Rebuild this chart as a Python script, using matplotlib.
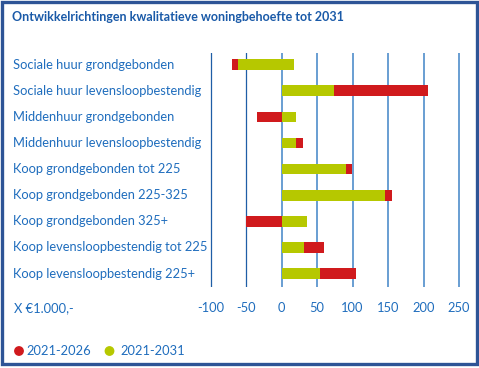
import matplotlib
matplotlib.use("Agg")
import matplotlib.pyplot as plt
from matplotlib.patches import Rectangle, Circle

categories = [
    "Sociale huur grondgebonden",
    "Sociale huur levensloopbestendig",
    "Middenhuur grondgebonden",
    "Middenhuur levensloopbestendig",
    "Koop grondgebonden tot 225",
    "Koop grondgebonden 225-325",
    "Koop grondgebonden 325+",
    "Koop levensloopbestendig tot 225",
    "Koop levensloopbestendig 225+",
]
# segment edges per series (x €1.000)
red_start = [-70, 74, -35, 20, 90, 145, -51, 31, 54]
red_end = [-62, 207, 0, 30, 99, 155, 0, 60, 105]
green_start = [-62, 0, 0, 0, 0, 0, 0, 0, 0]
green_end = [18, 74, 20, 20, 90, 145, 35, 31, 54]
ticks = [-100, -50, 0, 50, 100, 150, 200, 250]
series_names = ["2021-2026", "2021-2031"]

RED = "#d01a1d"
GREEN = "#b6c800"
TXT = "#1f6dbd"
TITLE = "#1a5aa8"
FRAME = "#2e5496"

W, H = 479, 368
fig = plt.figure(figsize=(W / 100, H / 100), dpi=100)
fig.patch.set_facecolor("white")

def fx(px):
    return px / W

def fy(py):
    return 1 - py / H

ax = fig.add_axes([fx(207.3), fy(287), fx(462.5) - fx(207.3), fy(53) - fy(287)])
ax.set_xlim(-105, 255)
ax.set_ylim(8.52, -0.45)
for s in ax.spines.values():
    s.set_visible(False)
ax.set_xticks([])
ax.set_yticks([])
ax.patch.set_alpha(0)

for t in ticks:
    if t < 0:
        ax.axvline(t, color="#1f5ea6", lw=0.9, zorder=1)
    else:
        ax.axvline(t, color="#4f8ecb", lw=1.2, zorder=1)

ypos = list(range(len(categories)))
gw = [e - s for s, e in zip(green_start, green_end)]
rw = [e - s for s, e in zip(red_start, red_end)]
ax.barh(ypos, gw, left=green_start, height=0.41, color=GREEN, zorder=3)
ax.barh(ypos, rw, left=red_start, height=0.41, color=RED, zorder=3)

font = "Lato"
for i, c in enumerate(categories):
    y_px = 64.7 + i * 26.1
    fig.text(fx(13), fy(y_px), c, ha="left", va="center", fontsize=9.3,
             color=TXT, family=font)

for t in ticks:
    x_px = 281.7 + t * 0.709
    fig.text(fx(x_px), fy(308), str(t), ha="center", va="center", fontsize=9.3,
             color=TXT, family=font)

fig.text(fx(14), fy(308), "X €1.000,-", ha="left", va="center", fontsize=9.3,
         color=TXT, family=font)

fig.text(fx(12), fy(17), "Ontwikkelrichtingen kwalitatieve woningbehoefte tot 2031",
         ha="left", va="center", fontsize=9.0, fontweight="bold", color=TITLE,
         family=font)

# legend
leg_ax = fig.add_axes([0, 0, 1, 1], zorder=5)
leg_ax.set_xlim(0, W)
leg_ax.set_ylim(H, 0)
leg_ax.axis("off")
leg_ax.add_patch(Circle((19, 351), 4.2, color=RED))
leg_ax.add_patch(Circle((109.5, 351), 4.2, color=GREEN))
leg_ax.text(26.5, 351, series_names[0], ha="left", va="center", fontsize=9.3,
            color=TXT, family=font)
leg_ax.text(120, 351, series_names[1], ha="left", va="center", fontsize=9.3,
            color=TXT, family=font)

# frame
leg_ax.add_patch(Rectangle((1.6, 1.6), 475.5, 362.0, fill=False,
                           edgecolor=FRAME, lw=2.4))

fig.savefig("out.png", dpi=100, facecolor="white")
